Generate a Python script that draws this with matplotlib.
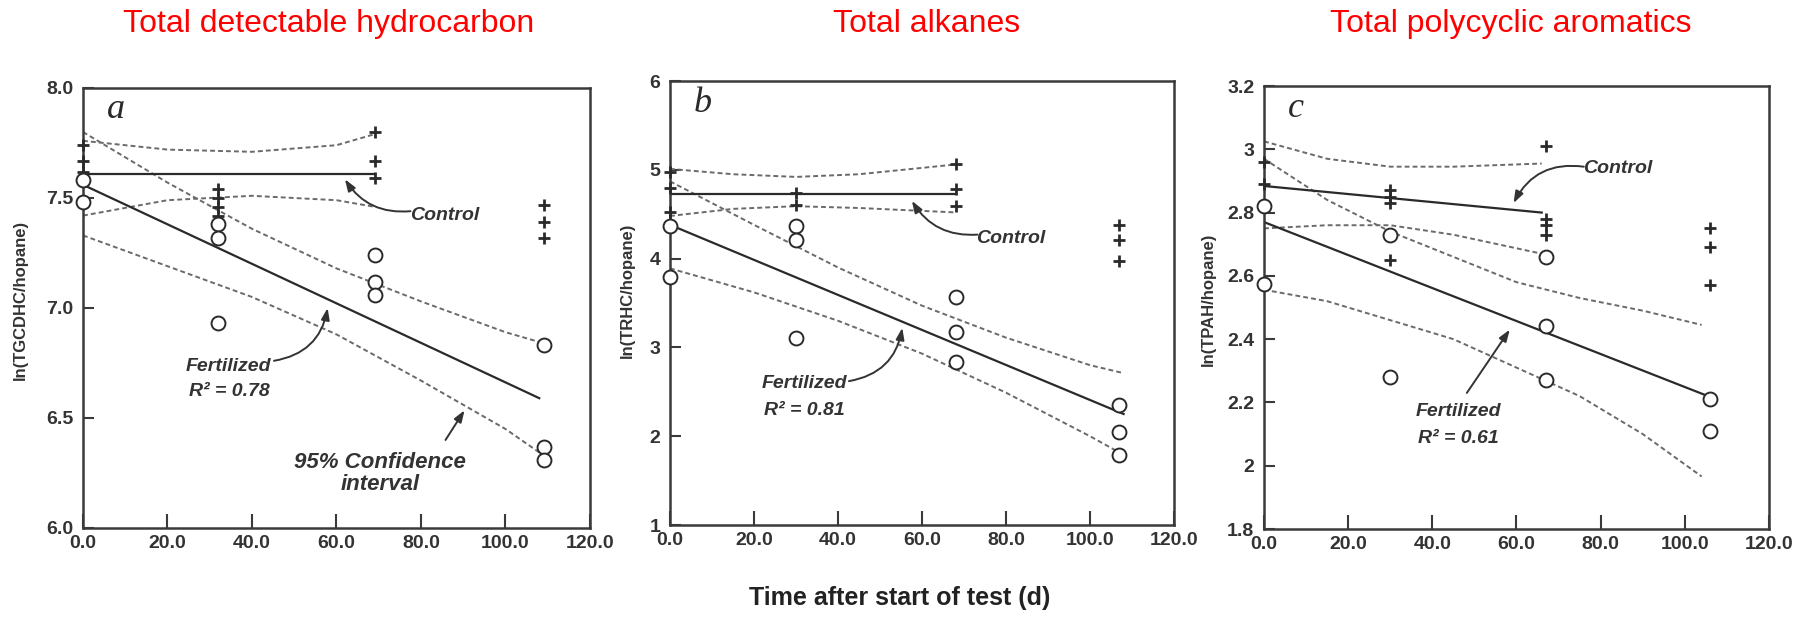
import matplotlib
matplotlib.use('Agg')
import matplotlib.pyplot as plt
from matplotlib import font_manager as fm

avail = {f.name for f in fm.fontManager.ttflist}
NARROW = 'Liberation Sans Narrow' if 'Liberation Sans Narrow' in avail else 'Liberation Sans'
SERIF = 'Liberation Serif' if 'Liberation Serif' in avail else 'DejaVu Serif'

# ---------------- data ----------------
titles = ["Total detectable hydrocarbon", "Total alkanes", "Total polycyclic aromatics"]
ylabels = ["ln(TGCDHC/hopane)", "ln(TRHC/hopane)", "ln(TPAH/hopane)"]
panel_letters = ["a", "b", "c"]
xticks = [0, 20, 40, 60, 80, 100, 120]
xtick_labels = ["0.0", "20.0", "40.0", "60.0", "80.0", "100.0", "120.0"]

# Panel a
a_yticks = [6.0, 6.5, 7.0, 7.5, 8.0]
a_ytick_labels = ["6.0", "6.5", "7.0", "7.5", "8.0"]
a_ctrl_x = [0, 0, 0, 32, 32, 32, 32, 69, 69, 69, 109, 109, 109]
a_ctrl_y = [7.74, 7.67, 7.62, 7.54, 7.50, 7.46, 7.42, 7.80, 7.67, 7.59, 7.47, 7.39, 7.32]
a_fert_x = [0, 0, 32, 32, 32, 69, 69, 69, 109, 109, 109]
a_fert_y = [7.58, 7.48, 7.38, 7.32, 6.93, 7.24, 7.12, 7.06, 6.83, 6.37, 6.31]
a_fit_x = [0, 108]
a_fit_y = [7.56, 6.59]
a_ctrlfit_x = [0, 69]
a_ctrlfit_y = [7.61, 7.61]
a_ctrl_ci_x = [0, 20, 40, 60, 69]
a_ctrl_up = [7.76, 7.72, 7.71, 7.74, 7.79]
a_ctrl_lo = [7.42, 7.49, 7.51, 7.49, 7.46]
a_ci_x = [0, 20, 40, 60, 80, 100, 109]
a_ci_up = [7.80, 7.57, 7.36, 7.18, 7.03, 6.89, 6.84]
a_ci_lo = [7.33, 7.19, 7.05, 6.88, 6.67, 6.45, 6.33]

# Panel b
b_yticks = [1, 2, 3, 4, 5, 6]
b_ytick_labels = ["1", "2", "3", "4", "5", "6"]
b_ctrl_x = [0, 0, 0, 30, 30, 68, 68, 68, 107, 107, 107]
b_ctrl_y = [4.98, 4.80, 4.53, 4.74, 4.60, 5.06, 4.78, 4.59, 4.38, 4.21, 3.97]
b_fert_x = [0, 0, 30, 30, 30, 68, 68, 68, 107, 107, 107]
b_fert_y = [4.37, 3.79, 4.37, 4.21, 3.11, 3.57, 3.17, 2.84, 2.35, 2.05, 1.79]
b_fit_x = [0, 108]
b_fit_y = [4.38, 2.25]
b_ctrlfit_x = [0, 68]
b_ctrlfit_y = [4.73, 4.73]
b_ctrl_ci_x = [0, 15, 30, 45, 68]
b_ctrl_up = [5.01, 4.95, 4.92, 4.95, 5.06]
b_ctrl_lo = [4.48, 4.56, 4.59, 4.57, 4.52]
b_ci_x = [0, 20, 40, 60, 80, 100, 108]
b_ci_up = [4.87, 4.38, 3.90, 3.47, 3.11, 2.80, 2.71]
b_ci_lo = [3.89, 3.62, 3.30, 2.93, 2.49, 2.00, 1.79]

# Panel c
c_yticks = [1.8, 2.0, 2.2, 2.4, 2.6, 2.8, 3.0, 3.2]
c_ytick_labels = ["1.8", "2", "2.2", "2.4", "2.6", "2.8", "3", "3.2"]
c_ctrl_x = [0, 0, 30, 30, 30, 30, 67, 67, 67, 67, 106, 106, 106]
c_ctrl_y = [2.96, 2.89, 2.87, 2.85, 2.83, 2.65, 3.01, 2.78, 2.76, 2.73, 2.75, 2.69, 2.57]
c_fert_x = [0, 0, 30, 30, 67, 67, 67, 106, 106]
c_fert_y = [2.82, 2.575, 2.73, 2.28, 2.66, 2.44, 2.27, 2.21, 2.11]
c_fit_x = [0, 105.5]
c_fit_y = [2.77, 2.22]
c_ctrlfit_x = [0, 66]
c_ctrlfit_y = [2.884, 2.80]
c_ctrl_ci_x = [0, 15, 30, 45, 66]
c_ctrl_up = [3.025, 2.97, 2.945, 2.945, 2.955]
c_ctrl_lo = [2.75, 2.76, 2.76, 2.73, 2.67]
c_ci_x = [0, 15, 30, 45, 60, 75, 90, 104]
c_ci_up = [2.97, 2.84, 2.74, 2.66, 2.58, 2.53, 2.49, 2.445]
c_ci_lo = [2.556, 2.52, 2.46, 2.40, 2.31, 2.22, 2.10, 1.966]

panels = [
    dict(ylim=(6, 8), yt=a_yticks, ytl=a_ytick_labels, cx=a_ctrl_x, cy=a_ctrl_y,
         fx=a_fert_x, fy=a_fert_y, fitx=a_fit_x, fity=a_fit_y, cfx=a_ctrlfit_x, cfy=a_ctrlfit_y,
         ccx=a_ctrl_ci_x, ccu=a_ctrl_up, ccl=a_ctrl_lo, cix=a_ci_x, ciu=a_ci_up, cil=a_ci_lo),
    dict(ylim=(1, 6), yt=b_yticks, ytl=b_ytick_labels, cx=b_ctrl_x, cy=b_ctrl_y,
         fx=b_fert_x, fy=b_fert_y, fitx=b_fit_x, fity=b_fit_y, cfx=b_ctrlfit_x, cfy=b_ctrlfit_y,
         ccx=b_ctrl_ci_x, ccu=b_ctrl_up, ccl=b_ctrl_lo, cix=b_ci_x, ciu=b_ci_up, cil=b_ci_lo),
    dict(ylim=(1.8, 3.2), yt=c_yticks, ytl=c_ytick_labels, cx=c_ctrl_x, cy=c_ctrl_y,
         fx=c_fert_x, fy=c_fert_y, fitx=c_fit_x, fity=c_fit_y, cfx=c_ctrlfit_x, cfy=c_ctrlfit_y,
         ccx=c_ctrl_ci_x, ccu=c_ctrl_up, ccl=c_ctrl_lo, cix=c_ci_x, ciu=c_ci_up, cil=c_ci_lo),
]

# axes rectangles in figure pixels: left, top, right, bottom
W, H = 1808, 620
rects_px = [(83, 88, 590, 528), (670, 81, 1174, 525), (1264, 86, 1769, 529)]
title_cx = [329, 927, 1511]
ylabel_px = [(20, 300), (627, 290), (1208, 299)]

INK = '#2a2a2a'
DASH = '#6a6a6a'

fig = plt.figure(figsize=(W / 100, H / 100), dpi=100)

axes = []
for i, (p, r) in enumerate(zip(panels, rects_px)):
    l, t, rr, b = r
    ax = fig.add_axes([l / W, 1 - b / H, (rr - l) / W, (b - t) / H])
    axes.append(ax)
    ax.set_xlim(0, 120)
    ax.set_ylim(*p['ylim'])
    for s in ax.spines.values():
        s.set_linewidth(1.8)
        s.set_color('#3a3a3a')
    ax.set_xticks(xticks)
    ax.set_xticklabels(xtick_labels, fontfamily=NARROW, fontweight='bold', fontsize=14, color='#333')
    ax.set_yticks(p['yt'])
    ax.set_yticklabels(p['ytl'], fontfamily=NARROW, fontweight='bold', fontsize=14, color='#333')
    ax.tick_params(axis='x', direction='in', length=10, width=1.5, pad=5, colors='#3a3a3a',
                   labelcolor='#333')
    ax.tick_params(axis='y', direction='in', length=8, width=1.5, pad=7, colors='#3a3a3a',
                   labelcolor='#333')
    # control CI
    ax.plot(p['ccx'], p['ccu'], color=DASH, lw=1.4, dashes=(2.5, 1.6))
    ax.plot(p['ccx'], p['ccl'], color=DASH, lw=1.4, dashes=(2.5, 1.6))
    # fertilized CI
    ax.plot(p['cix'], p['ciu'], color=DASH, lw=1.4, dashes=(2.5, 1.6))
    ax.plot(p['cix'], p['cil'], color=DASH, lw=1.4, dashes=(2.5, 1.6))
    # fits
    ax.plot(p['cfx'], p['cfy'], color=INK, lw=1.6)
    ax.plot(p['fitx'], p['fity'], color=INK, lw=1.6)
    # points
    ax.plot(p['cx'], p['cy'], linestyle='none', marker='+', markersize=8, mew=2.0,
            color=INK, clip_on=False, zorder=5)
    ax.plot(p['fx'], p['fy'], linestyle='none', marker='o', markersize=10, mew=1.4,
            mfc='white', mec=INK, clip_on=False, zorder=6)
    ax.text(0.047, 0.95, panel_letters[i], transform=ax.transAxes, fontfamily=SERIF,
            fontstyle='italic', fontsize=26, color=INK, va='center', ha='left')
    fig.text(title_cx[i] / W, 1 - 24 / H, titles[i], color='#ff0000', fontsize=23,
             fontfamily=NARROW, ha='center', va='center')
    fig.text(ylabel_px[i][0] / W, 1 - ylabel_px[i][1] / H, ylabels[i], rotation=90,
             fontfamily=NARROW, fontweight='bold', fontsize=12, color='#333',
             ha='center', va='center')

lab = dict(fontfamily=NARROW, fontweight='bold', fontstyle='italic', color='#333', ha='center', va='center')
arrow = dict(arrowstyle='-|>,head_length=0.7,head_width=0.25', color='#333', lw=1.4,
             shrinkA=0, shrinkB=0)

# annotations panel a
ax = axes[0]
ax.text(85.5, 7.42, "Control", fontsize=14, **lab)
ax.annotate("", xy=(62, 7.585), xytext=(77.5, 7.44),
            arrowprops=dict(connectionstyle='arc3,rad=-0.3', **arrow))
ax.text(34.4, 6.735, "Fertilized", fontsize=14, **lab)
ax.text(34.7, 6.62, "R² = 0.78", fontsize=14, **lab)
ax.annotate("", xy=(57.9, 7.0), xytext=(45.2, 6.76),
            arrowprops=dict(connectionstyle='arc3,rad=0.35', **arrow))
ax.text(70.3, 6.30, "95% Confidence", fontsize=16, **lab)
ax.text(70.3, 6.20, "interval", fontsize=16, **lab)
ax.annotate("", xy=(90.3, 6.535), xytext=(85.8, 6.40),
            arrowprops=dict(connectionstyle='arc3,rad=0', **arrow))

# annotations panel b
ax = axes[1]
ax.text(81, 4.23, "Control", fontsize=14, **lab)
ax.annotate("", xy=(57.6, 4.65), xytext=(73.2, 4.27),
            arrowprops=dict(connectionstyle='arc3,rad=-0.3', **arrow))
ax.text(32.1, 2.59, "Fertilized", fontsize=14, **lab)
ax.text(32.1, 2.29, "R² = 0.81", fontsize=14, **lab)
ax.annotate("", xy=(55.3, 3.22), xytext=(42.6, 2.62),
            arrowprops=dict(connectionstyle='arc3,rad=0.35', **arrow))

# annotations panel c
ax = axes[2]
ax.text(84.1, 2.94, "Control", fontsize=14, **lab)
ax.annotate("", xy=(59.3, 2.83), xytext=(76, 2.945),
            arrowprops=dict(connectionstyle='arc3,rad=0.35', **arrow))
ax.text(46.3, 2.17, "Fertilized", fontsize=14, **lab)
ax.text(46.3, 2.087, "R² = 0.61", fontsize=14, **lab)
ax.annotate("", xy=(58.4, 2.43), xytext=(48.2, 2.23),
            arrowprops=dict(connectionstyle='arc3,rad=0', **arrow))

fig.text(900 / W, 1 - 598 / H, "Time after start of test (d)", fontfamily=NARROW,
         fontweight='bold', fontsize=18, color='#222', ha='center', va='center')

fig.savefig('out.png', dpi=100)
